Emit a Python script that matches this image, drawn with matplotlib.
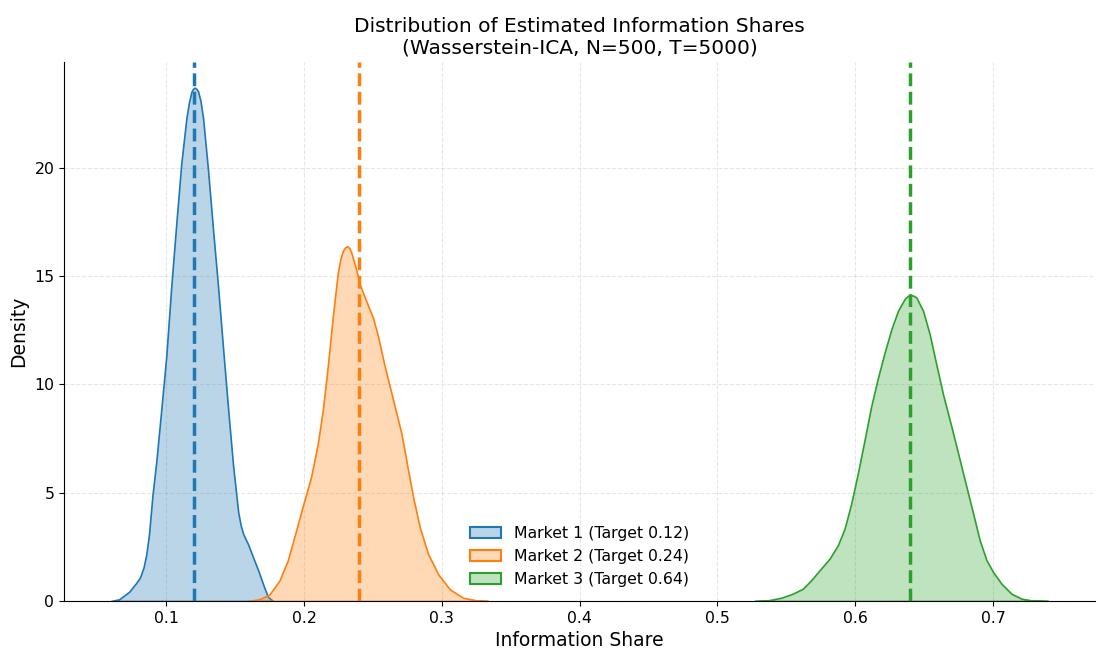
import matplotlib
matplotlib.use("Agg")
import matplotlib.pyplot as plt
from matplotlib.patches import Patch
from matplotlib.colors import to_rgba

# Estimated information share grid points and kernel density values per market
m1_share = [0.0598, 0.0658, 0.0731, 0.0780, 0.0810, 0.0835, 0.0855, 0.0875, 0.0900,
            0.0927, 0.0964, 0.1000, 0.1036, 0.1073, 0.1109, 0.1146, 0.1164, 0.1182,
            0.1194, 0.1206, 0.1218, 0.1230, 0.1248, 0.1267, 0.1303, 0.1340, 0.1376,
            0.1413, 0.1449, 0.1485, 0.1522, 0.1540, 0.1558, 0.1595, 0.1631, 0.1668,
            0.1704, 0.1737, 0.1775]
m1_density = [0.0, 0.08, 0.43, 0.82, 1.1, 1.55, 2.15, 3.1, 4.9,
              6.4, 8.85, 11.3, 14.5, 17.45, 20.2, 22.3, 23.0, 23.5,
              23.65, 23.7, 23.65, 23.55, 23.1, 22.3, 19.9, 17.1, 14.5,
              11.6, 8.85, 6.25, 4.1, 3.5, 3.1, 2.6, 2.0, 1.4,
              0.75, 0.2, 0.0]

m2_share = [0.1590, 0.1675, 0.1748, 0.1820, 0.1881, 0.1942, 0.2002, 0.2051, 0.2100,
            0.2136, 0.2172, 0.2209, 0.2245, 0.2264, 0.2282, 0.2298, 0.2313, 0.2328,
            0.2342, 0.2374, 0.2408, 0.2451, 0.2500, 0.2536, 0.2585, 0.2646, 0.2706,
            0.2755, 0.2791, 0.2840, 0.2900, 0.2973, 0.3058, 0.3155, 0.3252, 0.3337]
m2_density = [0.0, 0.08, 0.3, 0.93, 1.86, 3.25, 4.64, 5.73, 7.28,
              8.82, 10.84, 13.16, 15.17, 15.8, 16.18, 16.33, 16.38, 16.3,
              16.1, 15.4, 14.55, 13.85, 13.08, 12.23, 10.84, 9.29, 7.74,
              6.04, 4.8, 3.4, 2.17, 1.24, 0.54, 0.15, 0.03, 0.0]

m3_share = [0.5269, 0.5366, 0.5462, 0.5547, 0.5620, 0.5680, 0.5741, 0.5814, 0.5874,
            0.5923, 0.5971, 0.6019, 0.6068, 0.6116, 0.6165, 0.6213, 0.6262, 0.6310,
            0.6358, 0.6380, 0.6400, 0.6421, 0.6443, 0.6492, 0.6540, 0.6588, 0.6637,
            0.6697, 0.6758, 0.6806, 0.6855, 0.6903, 0.6952, 0.7000, 0.7061, 0.7133,
            0.7206, 0.7278, 0.7400]
m3_density = [0.0, 0.03, 0.15, 0.34, 0.57, 0.96, 1.42, 1.96, 2.58,
              3.35, 4.51, 5.9, 7.45, 9.0, 10.31, 11.47, 12.55, 13.4,
              13.94, 14.08, 14.13, 14.1, 14.02, 13.4, 12.32, 10.93, 9.54,
              8.07, 6.52, 5.29, 4.05, 2.81, 1.89, 1.34, 0.8, 0.34,
              0.11, 0.03, 0.0]

targets = [0.12, 0.24, 0.64]
labels = ["Market 1 (Target 0.12)", "Market 2 (Target 0.24)", "Market 3 (Target 0.64)"]
colors = ["#1f77b4", "#ff7f0e", "#2ca02c"]

fig = plt.figure(figsize=(10.98, 6.55), dpi=100)
ax = fig.add_axes([0.0583, 0.0824, 0.939, 0.8229])

series = [(m1_share, m1_density), (m2_share, m2_density), (m3_share, m3_density)]
handles = []
for (xs, ys), tgt, lab, col in zip(series, targets, labels, colors):
    poly = ax.fill_between(xs, 0, ys, facecolor=to_rgba(col, 0.3),
                           edgecolor=col, linewidth=1.2)
    poly.sticky_edges.y[:] = [0]
    ax.axvline(tgt, color=col, linestyle="--", linewidth=2.5)
    handles.append(Patch(facecolor=to_rgba(col, 0.3), edgecolor=col,
                         linewidth=1.5, label=lab))

ax.set_ylim(bottom=0)
ax.set_yticks([0, 5, 10, 15, 20])
ax.set_xticks([0.1, 0.2, 0.3, 0.4, 0.5, 0.6, 0.7])
ax.tick_params(labelsize=11.3)
ax.grid(True, linestyle="--", alpha=0.3)
ax.set_axisbelow(True)
for side in ("top", "right"):
    ax.spines[side].set_visible(False)

ax.set_title("Distribution of Estimated Information Shares\n(Wasserstein-ICA, N=500, T=5000)",
             fontsize=14.5)
ax.set_xlabel("Information Share", fontsize=13.5)
ax.set_ylabel("Density", fontsize=13.5)
ax.legend(handles=handles, loc="lower center", frameon=False, fontsize=11.3)

fig.savefig("out.png", dpi=100)
